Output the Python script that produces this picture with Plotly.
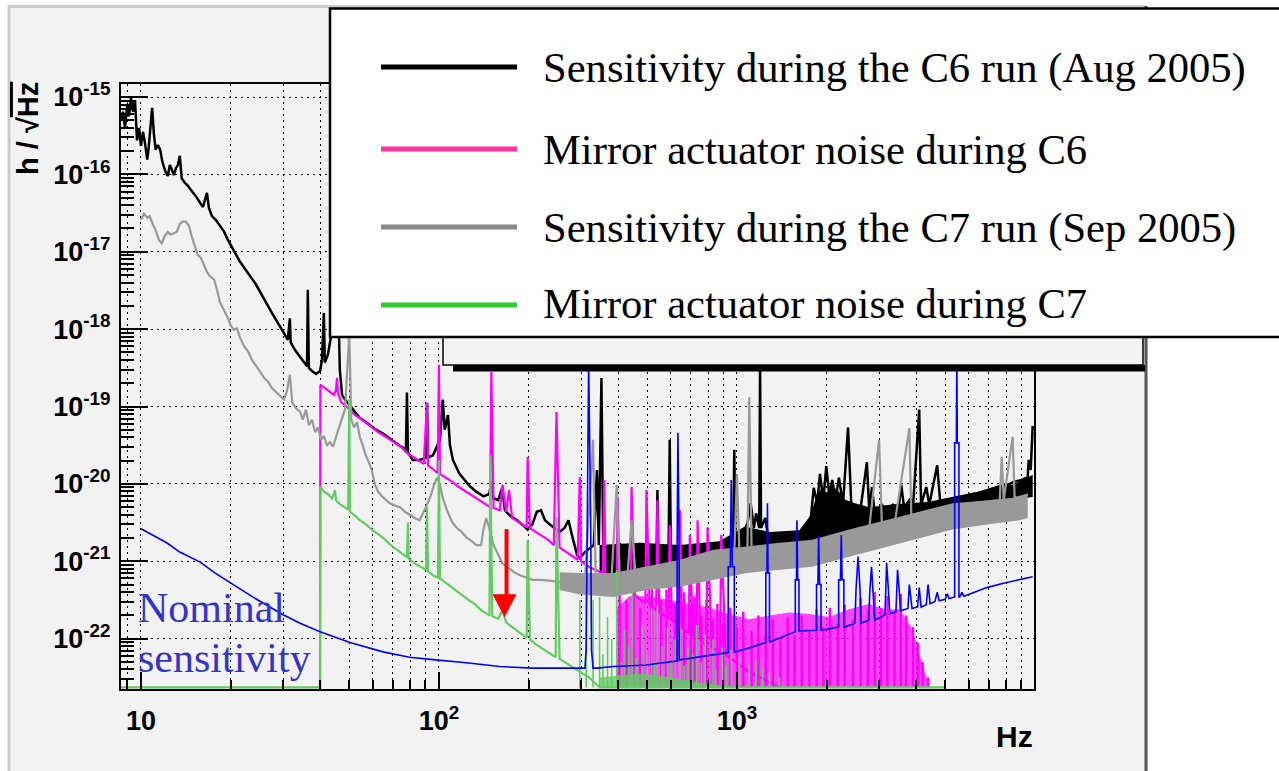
import plotly.graph_objects as go

# ---------------------------------------------------------------------------
# Strain sensitivity spectra, h / sqrt(Hz).  Frequencies in Hz, amplitudes as
# log10(h).  None marks bins that are zero (below the displayed range); they are
# drawn on the lower edge of the frame, as ROOT does.
# ---------------------------------------------------------------------------

# C6 run sensitivity (Aug 2005)
c6_freq_hz = [
    8.57, 8.70, 8.84, 9.00, 9.11, 9.26, 9.40, 9.55, 9.70, 9.85,
    10.0, 10.16, 10.3, 10.5, 10.6, 10.8, 10.9, 11.06, 11.2, 11.4,
    11.6, 11.8, 11.95, 12.1, 12.3, 12.5, 12.7, 12.9, 13.1, 13.3,
    13.5, 13.7, 14.05, 14.4, 14.7, 15.05, 15.4, 15.8, 16.15, 16.4,
    16.65, 16.9, 17.3, 17.85, 18.4, 19.0, 19.6, 20.2, 20.8, 21.5,
    22.2, 22.9, 23.6, 24.3, 25.1, 25.9, 26.7, 27.5, 28.4, 29.3,
    30.2, 31.1, 31.6, 31.8, 32.9, 34.2, 35.2, 36.1, 36.3, 36.6,
    37.5, 38.7, 39.9, 40.5, 41.1, 41.4, 42.4, 43.4, 44.4, 45.1,
    45.8, 46.5, 47.3, 48.4, 50.0, 51.5, 54.3, 57.3, 61.0, 64.9,
    69.4, 74.0, 77.5, 78.1, 78.7, 81.6, 86.1, 90.5, 91.2, 91.9,
    95.5, 98.6, 100.8, 103, 104.6, 107.2, 108.9, 111.4, 114.8, 117.2,
    122, 127, 133.5, 141, 147.5, 149.9, 152, 158, 163, 166.5,
    173, 182.8, 191, 198.5, 206, 213, 220, 227, 235, 245,
    254, 264, 272, 282, 291, 297, 309, 321, 331, 339,
    344, 351, 356, 363, 374, 395, 404, 420, 443, 471,
    497, 518, 538, 541, 545, 567, 590, 595, 600, 623,
    652, 695, 738, 786, 837, 886, 942, 972, 980, 988,
    1036, 1085, 1112, 1140, 1160, 1188, 1196, 1205, 1245, 1266,
    1340, 1415, 1500, 1580, 1680, 1770, 1810, 1860, 1900, 1950,
    1995, 2040, 2090, 2140, 2200, 2270, 2360, 2420, 2510, 2610,
    2730, 2780, 2840, 2900, 3067, 3180, 3338, 3490, 3560, 3640,
    3790, 3900, 4090, 4150, 4320, 4420, 4700, 4810, 5080, 5340,
    5640, 6000, 6400, 6780, 7170, 7620, 8100, 8550, 9030, 9460,
    9530, 9680, 9830,
]
c6_log_h = [
    -15.30, -15.19, -15.40, -15.09, -15.25, -15.01, -15.19, -15.04, -15.56, -15.40,
    -15.63, -15.45, -15.58, -15.81, -15.68, -15.30, -15.14, -15.49, -15.68, -15.62,
    -15.68, -15.84, -15.92, -15.97, -16.02, -15.88, -15.94, -16.01, -15.92, -15.88,
    -15.76, -16.05, -16.11, -16.15, -16.20, -16.25, -16.30, -16.37, -16.42, -16.33,
    -16.24, -16.43, -16.54, -16.59, -16.67, -16.74, -16.85, -16.95, -17.03, -17.13,
    -17.21, -17.29, -17.35, -17.42, -17.52, -17.60, -17.70, -17.79, -17.88, -17.96,
    -18.05, -18.14, -17.86, -18.17, -18.27, -18.36, -18.42, -18.48, -17.49, -18.50,
    -18.54, -18.58, -18.54, -18.40, -17.79, -18.43, -18.33, -18.07, -17.88, -18.01,
    -17.49, -18.53, -18.85, -18.91, -18.98, -19.04, -19.15, -19.21, -19.29, -19.35,
    -19.43, -19.51, -19.55, -18.82, -19.59, -19.69, -19.69, -19.66, -18.95, -19.66,
    -19.63, -19.50, -19.43, -18.91, -19.30, -19.11, -19.50, -19.69, -19.79, -19.87,
    -19.95, -20.03, -20.10, -20.16, -20.13, -19.97, -20.18, -20.21, -20.05, -20.34,
    -20.41, -20.47, -20.53, -20.59, -20.52, -20.36, -20.34, -20.47, -20.52, -20.57,
    -20.62, -20.57, -20.47, -20.72, -20.92, -20.96, -20.88, -20.83, -20.79, -19.82,
    -20.79, -18.63, -20.85, -20.87, -20.81, -20.90, -20.77, -20.86, -20.81, -20.83,
    -20.77, -20.86, -20.81, -20.08, -20.86, -20.83, -20.81, -19.43, -20.83, -20.87,
    -20.81, -20.86, -20.83, -20.81, -20.78, -20.77, -20.74, -20.70, -19.56, -20.70,
    -20.68, -20.51, -20.25, -20.57, -20.38, -20.57, -18.50, -20.57, -20.44, -20.63,
    -20.70, -20.68, -20.66, -20.64, -20.61, -20.44, -20.05, -20.25, -19.87, -20.21,
    -19.77, -20.14, -19.95, -20.21, -19.92, -20.27, -19.27, -20.27, -20.40, -20.27,
    -19.72, -20.34, -20.04, -20.38, -20.27, -20.34, -20.27, -20.31, -20.01, -20.31,
    -20.21, -20.29, -19.04, -20.27, -20.04, -20.27, -19.76, -20.23, -20.21, -20.20,
    -20.17, -20.14, -20.12, -20.09, -20.07, -20.03, -20.01, -19.97, -19.95, -19.91,
    -19.69, -19.82, -19.25,
]
# spread of the fast fluctuations of the C6 curve above a few hundred Hz
c6_band_freq_hz = [346, 471, 644, 873, 1064, 1286, 1620, 1770, 1850, 1930,
                   2000, 2080, 2200, 2300, 2490, 2780, 3260, 3790, 4420, 5560,
                   7000, 8550, 9830]
c6_band_low_log_h = [-21.18, -21.10, -21.01, -20.88, -20.84, -20.80, -20.76, -20.74, -20.72, -20.70,
                     -20.68, -20.67, -20.65, -20.63, -20.60, -20.55, -20.50, -20.42, -20.33, -20.28,
                     -20.24, -20.20, -20.17]
c6_band_high_log_h = [-20.79, -20.76, -20.79, -20.74, -20.55, -20.62, -20.60, -20.40, -20.15, -20.05,
                      -20.12, -20.02, -20.10, -20.20, -20.25, -20.30, -20.27, -20.25, -20.23, -20.15,
                      -20.08, -20.00, -19.88]

# C7 run sensitivity (Sep 2005)
c7_freq_hz = [
    10.0, 10.23, 10.5, 10.7, 10.97, 11.2, 11.5, 11.75, 12.0, 12.3,
    12.6, 12.9, 13.2, 13.5, 13.8, 14.15, 14.5, 14.8, 15.2, 15.5,
    15.9, 16.3, 16.65, 17.0, 17.6, 18.0, 18.4, 18.85, 19.3, 19.7,
    20.0, 20.5, 21.0, 21.5, 22.2, 22.9, 23.6, 24.3, 25.1, 25.9,
    26.7, 27.5, 28.4, 29.3, 30.2, 30.9, 31.6, 32.2, 33.1, 34.2,
    34.9, 35.8, 36.6, 37.5, 38.4, 39.3, 40.2, 41.1, 42.1, 43.1,
    44.1, 45.1, 46.1, 47.3, 48.4, 49.1, 50.0, 50.8, 51.9, 53.1,
    54.3, 55.5, 56.8, 58.2, 59.5, 61.0, 62.5, 64.4, 66.3, 68.4,
    71.2, 74.0, 76.9, 79.7, 82.9, 86.1, 88.9, 91.2, 94.1, 96.3,
    98.6, 100.8, 103, 106.4, 110.6, 114.8, 119.2, 123.6, 128.8, 133.5,
    138.5, 141, 144, 147.5, 152.5, 158, 163.5, 170.5, 178.5, 187.1,
    195.6, 206, 217.6, 235, 254, 275, 297, 309, 329, 336,
    359, 380, 395, 404, 429, 443, 457, 490, 528, 575,
    620, 695, 782, 873, 980, 1000, 1020, 1085, 1100, 1120,
    1245, 1390, 1565, 1750, 1974, 2200, 2490, 2780, 3000, 3067,
    3390, 3790, 3850, 4276, 4770, 5340, 6000, 6780, 7620, 7740,
    7860, 8420, 8550, 9460,
]
c7_log_h = [
    -16.59, -16.51, -16.56, -16.54, -16.65, -16.72, -16.85, -16.89, -16.80, -16.74,
    -16.78, -16.76, -16.74, -16.64, -16.61, -16.61, -16.67, -16.80, -16.95, -17.04,
    -17.08, -17.18, -17.26, -17.31, -17.36, -17.49, -17.65, -17.73, -17.80, -17.88,
    -17.95, -18.01, -17.99, -18.11, -18.22, -18.29, -18.40, -18.48, -18.55, -18.63,
    -18.68, -18.76, -18.81, -18.86, -18.91, -18.80, -18.59, -18.95, -19.02, -19.07,
    -19.17, -19.04, -19.24, -19.17, -19.33, -19.27, -19.43, -19.38, -19.50, -19.46,
    -19.52, -19.40, -19.27, -19.15, -19.04, -18.60, -18.07, -19.17, -19.27, -19.20,
    -19.40, -19.50, -19.63, -19.72, -19.82, -20.01, -20.10, -20.16, -20.21, -20.25,
    -20.28, -20.30, -20.36, -20.40, -20.44, -20.47, -20.36, -20.27, -20.14, -20.01,
    -19.92, -20.01, -20.18, -20.34, -20.49, -20.57, -20.62, -20.69, -20.74, -20.79,
    -20.79, -20.59, -20.44, -20.57, -20.79, -20.92, -21.03, -21.08, -21.14, -21.18,
    -21.21, -21.24, -21.24, -21.25, -21.27, -21.27, -21.29, -21.24, -19.43, -21.27,
    -21.21, -21.18, -20.01, -21.21, -21.19, -20.47, -21.19, -21.16, -21.14, -21.11,
    -21.09, -21.05, -20.98, -20.93, -20.90, -19.88, -20.90, -20.85, -18.88, -20.85,
    -20.83, -20.79, -20.79, -20.75, -20.72, -20.67, -20.62, -20.57, -19.43, -20.54,
    -20.49, -19.28, -20.44, -20.40, -20.34, -20.28, -20.26, -20.23, -20.21, -19.65,
    -20.21, -19.39, -20.18, -20.14,
]
c7_band_freq_hz = [254, 297, 385, 497, 644, 831, 1077, 1390, 1790, 2380,
                   3180, 4090, 5290, 7000, 8890, 9460]
c7_band_low_log_h = [-21.37, -21.43, -21.46, -21.37, -21.33, -21.24, -21.15, -21.11, -21.07, -20.94,
                     -20.81, -20.70, -20.59, -20.52, -20.47, -20.44]
c7_band_high_log_h = [-21.14, -21.15, -21.15, -21.07, -20.98, -20.85, -20.81, -20.76, -20.72, -20.59,
                      -20.47, -20.36, -20.25, -20.21, -20.17, -20.12]

# Mirror actuator noise during C6
c6_act_freq_hz = [
    39.9, 40.0, 41.4, 43.1, 44.4, 45.1, 45.5, 45.8, 46.9, 48.4,
    50.3, 52.3, 54.3, 56.8, 59.5, 62.5, 65.6, 68.4, 71.7, 75.1,
    77.5, 81.0, 84.9, 88.9, 91.2, 91.9, 96.3, 99.0, 100, 100.8,
    105.5, 110.6, 115.7, 121, 127, 132.5, 138.5, 145, 148.5, 149.9,
    152.5, 160, 163.5, 168, 172, 176, 184, 193, 197, 198.5,
    202, 211, 221, 232, 243, 248, 254, 266, 279, 292,
    297, 300, 321, 336, 355, 359, 362, 380, 395, 398,
    404, 429, 440, 443, 454, 476, 493, 497, 509, 536,
    541, 549, 590, 595, 605, 640, 644, 655, 690, 695,
    711, 733, 738, 754, 790, 797, 823, 878, 886, 918,
    1008, 1100, 1240, 1390,
]
c6_act_log_h = [
    None, -18.72, -18.76, -18.81, -18.85, -18.79, -18.63, -18.82, -18.94, -18.98,
    -19.04, -19.11, -19.15, -19.21, -19.26, -19.33, -19.38, -19.43, -19.48, -19.53,
    -19.59, -19.64, -19.69, -19.74, -18.95, -19.76, -19.82, -19.86, -18.46, -19.87,
    -19.92, -19.97, -20.03, -20.08, -20.13, -20.18, -20.23, -20.28, -20.30, -18.55,
    -20.31, -20.34, -20.01, -20.36, -20.08, -20.44, -20.49, -20.54, -20.56, -19.65,
    -20.57, -20.62, -20.67, -20.72, -20.79, -19.07, -20.82, -20.87, -20.93, -20.98,
    -19.91, -21.00, -21.08, -21.11, -21.16, -19.95, -21.18, -21.24, -21.29, -20.17,
    -21.30, -21.37, -21.40, -20.04, -21.43, -21.50, -21.54, -20.08, -21.56, -21.63,
    -20.21, -21.65, -21.74, -20.53, -21.76, -21.84, -20.34, -21.86, -21.93, -20.66,
    -21.95, -21.99, -20.47, -22.01, -22.09, -20.56, -22.11, -22.19, -20.66, -22.21,
    -22.33, -22.43, -22.53, None,
]
# dense comb of C6 actuator lines above ~400 Hz: background cover ...
c6_act_comb_freq_hz = [395, 436, 509, 595, 695, 809, 942, 1100, 1286, 1500,
                       1750, 2040, 2380, 2780, 3130, 3510, 3850, 4090, 4290, 4450]
c6_act_comb_top_log_h = [-21.60, -21.45, -21.45, -21.50, -21.55, -21.60, -21.68, -21.75, -21.70, -21.66,
                         -21.68, -21.72, -21.62, -21.55, -21.62, -21.62, -21.85, -22.20, -22.45, None]
# ... and its individual teeth
c6_act_line_freq_hz = [
    404, 426, 450, 474, 518, 557, 580, 620, 665, 700,
    720, 760, 790, 830, 860, 900, 950, 1000, 1050, 1120,
    1180, 1250, 1320, 1400, 1480, 1560, 1650, 1750, 1850, 1950,
    2050, 2180, 2300, 2450, 2600, 2750, 2900, 3050, 3200, 3380,
    3550, 3700, 3900, 4050, 4200, 4380,
]
c6_act_line_top_log_h = [
    -21.30, -21.50, -21.37, -21.60, -21.27, -21.50, -21.37, -21.55, -21.40, -21.60,
    -21.45, -21.70, -21.50, -21.75, -21.55, -21.80, -21.60, -21.85, -21.65, -21.90,
    -21.70, -21.95, -21.75, -21.98, -21.72, -21.95, -21.70, -21.90, -21.62, -21.85,
    -21.60, -21.80, -21.56, -21.75, -21.47, -21.62, -21.40, -21.60, -21.45, -21.65,
    -21.42, -21.70, -21.85, -22.05, -22.30, -22.50,
]

# Mirror actuator noise during C7
c7_act_freq_hz = [
    8.57, 39.9, 40.0, 41.1, 42.4, 43.8, 44.8, 45.1, 46.5, 48.4,
    49.6, 50.0, 50.3, 52.3, 54.3, 56.8, 59.5, 62.5, 65.6, 68.4,
    71.7, 75.1, 78.1, 78.7, 79.2, 82.3, 86.1, 90.5, 91.2, 91.9,
    96.3, 99.3, 100, 100.8, 105.5, 110.6, 115.7, 121, 127, 132.5,
    138.5, 145, 147.8, 148.7, 151, 158, 163.5, 168, 176, 184,
    193, 197, 198.5, 202, 211, 221, 232, 243, 246.5, 248,
    254, 266, 279, 292, 306, 321, 336, 346, 4950,
]
c7_act_log_h = [
    None, None, -20.04, -20.10, -20.13, -20.19, -20.08, -20.21, -20.26, -20.31,
    -20.33, -18.91, -20.36, -20.41, -20.47, -20.52, -20.59, -20.65, -20.71, -20.78,
    -20.84, -20.90, -20.95, -20.50, -20.97, -21.02, -21.06, -21.11, -20.30, -21.13,
    -21.19, -21.21, -19.69, -21.22, -21.28, -21.34, -21.40, -21.46, -21.51, -21.56,
    -21.63, -21.68, -21.70, -19.63, -21.71, -21.74, -21.63, -21.79, -21.85, -21.90,
    -21.97, -21.99, -20.72, -22.01, -22.07, -22.12, -22.17, -22.22, -22.24, -20.43,
    -22.26, -22.31, -22.36, -22.41, -22.46, -22.51, -22.58, None, None,
]
# isolated actuator lines (C7) rising from below the displayed range
c7_act_line_freq_hz = [
    297, 312, 329, 346, 355, 368, 380, 395, 410, 420,
    433, 446, 460, 480, 500, 518, 530, 541, 560, 585,
    600, 620, 644, 665, 686, 710, 733, 760, 782, 831,
    850, 893, 920, 957, 1020, 1100, 1160, 1220, 1286, 1390,
]
c7_act_line_top_log_h = [
    -21.50, -21.37, -21.50, -21.46, -22.20, -21.72, -22.00, -21.11, -22.30, -21.89,
    -22.10, -21.40, -22.25, -21.82, -22.20, -21.61, -22.30, -21.56, -22.10, -21.86,
    -22.30, -22.00, -21.89, -22.35, -22.11, -22.20, -21.82, -22.30, -21.95, -22.01,
    -22.40, -22.11, -22.35, -22.14, -22.23, -22.33, -22.27, -22.38, -22.44, -22.49,
]
# low dense grass of C7 lines just above the lower edge
c7_act_grass_freq_hz = [346, 404, 471, 549, 644, 749, 873, 1020]
c7_act_grass_top_log_h = [-22.50, -22.47, -22.45, -22.48, -22.52, -22.57, -22.60, None]

# Nominal (design) sensitivity
nominal_freq_hz = [
    10.0, 11.1, 12.2, 13.5, 15.8, 17.7, 19.9, 23.7, 30.0, 34.2,
    39.9, 50.3, 64.9, 79.7, 95.5, 123.6, 160, 206, 268, 305,
    309, 312, 314, 318, 323, 325, 329, 339, 385, 497,
    565, 626, 630, 630, 634, 640, 640, 649, 782, 925,
    935, 935, 950, 957, 965, 980, 980, 988, 1100, 1246,
    1250, 1250, 1262, 1266, 1272, 1286, 1286, 1296, 1565, 1570,
    1570, 1585, 1590, 1600, 1615, 1615, 1620, 1841, 1850, 1850,
    1870, 1880, 1895, 1915, 1915, 1920, 2183, 2195, 2195, 2225,
    2240, 2255, 2285, 2285, 2300, 2489, 2510, 2550, 2590, 2610,
    2773, 2790, 2830, 2870, 2900, 3140, 3160, 3180, 3220, 3260,
    3418, 3440, 3460, 3510, 3540, 3750, 3790, 3870, 4040, 4090,
    4150, 4320, 4380, 4450, 4620, 4700, 4770, 5000, 5080, 5150,
    5340, 5380, 5380, 5450, 5470, 5490, 5560, 5560, 5600, 5690,
    5780, 6890, 7900, 8890, 9830,
]
nominal_log_h = [
    -20.58, -20.68, -20.76, -20.88, -21.01, -21.15, -21.27, -21.46, -21.69, -21.80,
    -21.91, -22.05, -22.17, -22.24, -22.27, -22.31, -22.36, -22.38, -22.38, -22.38,
    -22.38, -22.14, -20.47, -18.45, -20.47, -22.14, -22.38, -22.38, -22.36, -22.34,
    -22.31, -22.29, -22.29, -20.81, -19.34, -20.81, -22.28, -22.27, -22.22, -22.18,
    -22.18, -21.07, -21.07, -19.95, -21.07, -21.07, -22.17, -22.17, -22.12, -22.05,
    -22.05, -21.15, -21.15, -20.25, -21.15, -21.15, -22.04, -22.04, -21.91, -21.91,
    -21.24, -21.24, -20.47, -21.24, -21.24, -21.90, -21.90, -21.89, -21.89, -21.30,
    -21.30, -20.66, -21.30, -21.30, -21.89, -21.89, -21.85, -21.85, -21.24, -21.24,
    -20.66, -21.24, -21.24, -21.85, -21.85, -21.80, -21.37, -20.94, -21.37, -21.80,
    -21.76, -21.41, -21.07, -21.41, -21.76, -21.69, -21.34, -21.02, -21.34, -21.68,
    -21.65, -21.41, -21.11, -21.41, -21.64, -21.61, -21.30, -21.61, -21.59, -21.34,
    -21.59, -21.56, -21.30, -21.55, -21.52, -21.40, -21.51, -21.49, -21.42, -21.48,
    -21.46, -21.46, -19.47, -19.47, -18.35, -19.47, -19.47, -21.46, -21.46, -21.40,
    -21.45, -21.34, -21.28, -21.24, -21.20,
]

# axis ticks
x_tick_hz = [10, 100, 1000]
x_tick_text = ["10", "10<sup>2</sup>", "10<sup>3</sup>"]
y_tick_exp = [-22, -21, -20, -19, -18, -17, -16, -15]

legend_labels = [
    "Sensitivity during the C6 run (Aug 2005)",
    "Mirror actuator noise during C6",
    "Sensitivity during the C7 run (Sep 2005)",
    "Mirror actuator noise during C7",
]
legend_colors = ["#000000", "#ff3399", "#888888", "#33cc33"]

# red arrow: C6 -> C7 actuator noise reduction
ARROW_FREQ_HZ = 166
ARROW_TIP_H = 1.9e-22

# ---------------------------------------------------------------------------
X_RANGE = [0.933, 3.997]          # log10(Hz)
Y_RANGE = [-22.65, -14.832]       # log10(h)
FLOOR_LOG = -22.63                # where empty bins are drawn

C_BLACK, C_MAG, C_GRAY, C_GREEN, C_BLUE = "#000000", "#ff00ff", "#999999", "#62cc62", "#0000ff"
BG = "#f2f2f2"


def h(logs):
    return [10 ** (FLOOR_LOG if v is None else v) for v in logs]


def band_xy(freq, low, high):
    return list(freq) + list(freq)[::-1], h(high) + h(low)[::-1]


def comb_xy(freq, tops):
    floor = 10 ** FLOOR_LOG
    return list(freq) + [freq[-1], freq[0]], h(tops) + [floor, floor]


def lines_xy(freq, tops):
    xs, ys = [], []
    for f, t in zip(freq, h(tops)):
        xs += [f, f, None]
        ys += [10 ** FLOOR_LOG, t, None]
    return xs, ys


def line(x, y, color, width):
    return go.Scatter(x=x, y=y, mode="lines", line=dict(color=color, width=width),
                      hoverinfo="skip", showlegend=False)


def area(x, y, color):
    return go.Scatter(x=x, y=y, mode="lines", fill="toself", fillcolor=color,
                      line=dict(width=0, color=color), hoverinfo="skip", showlegend=False)


fig = go.Figure()
fig.add_trace(area(*band_xy(c6_band_freq_hz, c6_band_low_log_h, c6_band_high_log_h), C_BLACK))
fig.add_trace(line(c6_freq_hz, h(c6_log_h), C_BLACK, 2.5))
fig.add_trace(area(*comb_xy(c6_act_comb_freq_hz, c6_act_comb_top_log_h), "rgba(255,0,255,0.72)"))
fig.add_trace(line(*lines_xy(c6_act_line_freq_hz, c6_act_line_top_log_h), C_MAG, 2.4))
fig.add_trace(line(c6_act_freq_hz, h(c6_act_log_h), C_MAG, 2.2))
fig.add_trace(area(*band_xy(c7_band_freq_hz, c7_band_low_log_h, c7_band_high_log_h), C_GRAY))
fig.add_trace(line(c7_freq_hz, h(c7_log_h), C_GRAY, 2.2))
fig.add_trace(area(*comb_xy(c7_act_grass_freq_hz, c7_act_grass_top_log_h), "rgba(98,204,98,0.8)"))
fig.add_trace(line(*lines_xy(c7_act_line_freq_hz, c7_act_line_top_log_h), C_GREEN, 1.6))
fig.add_trace(line(c7_act_freq_hz, h(c7_act_log_h), C_GREEN, 2.2))
fig.add_trace(line(nominal_freq_hz, h(nominal_log_h), C_BLUE, 1.6))

# ---------------------------------------------------------------------------
# page geometry (pixels) -> paper coordinates
PL, PT, PW, PH = 121, 84, 913, 605


def px(x):
    return (x - PL) / PW


def py(y):
    return (PT + PH - y) / PH


shapes = [
    # ROOT canvas
    dict(type="rect", xref="paper", yref="paper", x0=px(8), x1=px(1146), y0=py(800), y1=py(7),
         fillcolor=BG, line=dict(width=0), layer="below"),
    dict(type="line", xref="paper", yref="paper", x0=px(9), x1=px(9), y0=py(800), y1=py(6),
         line=dict(color="#cccccc", width=3), layer="below"),
    dict(type="line", xref="paper", yref="paper", x0=px(8), x1=px(1146), y0=py(6.5), y1=py(6.5),
         line=dict(color="#cccccc", width=3), layer="below"),
    dict(type="line", xref="paper", yref="paper", x0=px(1146), x1=px(1146), y0=py(800), y1=py(6),
         line=dict(color="#555555", width=3), layer="below"),
    # original ROOT legend box with its shadow, mostly covered
    dict(type="rect", xref="paper", yref="paper", x0=px(443), x1=px(1143), y0=py(365), y1=py(300),
         fillcolor=BG, line=dict(color="black", width=1.5), layer="above"),
    dict(type="rect", xref="paper", yref="paper", x0=px(453), x1=px(1145), y0=py(371.5), y1=py(365),
         fillcolor="black", line=dict(width=0), layer="above"),
    # overlay legend box
    dict(type="rect", xref="paper", yref="paper", x0=px(330), x1=px(1300), y0=py(337), y1=py(8.5),
         fillcolor="white", line=dict(color="black", width=2.5), layer="above"),
    # arrow shaft and head, anchored at the arrow tip
    dict(type="rect", xref="x", yref="y", xsizemode="pixel", ysizemode="pixel",
         xanchor=ARROW_FREQ_HZ, yanchor=ARROW_TIP_H, x0=-4, x1=4, y0=22, y1=88,
         fillcolor="#ff0000", line=dict(width=0), layer="above"),
    dict(type="path", xref="x", yref="y", xsizemode="pixel", ysizemode="pixel",
         xanchor=ARROW_FREQ_HZ, yanchor=ARROW_TIP_H, path="M -12,23 L 12,23 L 0,0 Z",
         fillcolor="#ff0000", line=dict(width=0), layer="above"),
]

legend_row_y = [67, 149, 227, 305]
for yy, col in zip(legend_row_y, legend_colors):
    shapes.append(dict(type="line", xref="paper", yref="paper", x0=px(381), x1=px(517),
                       y0=py(yy), y1=py(yy), line=dict(color=col, width=5), layer="above"))

SERIF = "Liberation Serif, Times New Roman, serif"
SANS = "Liberation Sans, Arial, Helvetica, sans-serif"

annotations = []
legend_text_y = [68, 149, 228, 303]
for yy, label in zip(legend_text_y, legend_labels):
    annotations.append(dict(xref="paper", yref="paper", x=px(541), y=py(yy), text=label,
                            showarrow=False, xanchor="left", yanchor="middle",
                            font=dict(family=SERIF, size=42.6, color="black")))
annotations += [
    dict(xref="paper", yref="paper", x=px(136), y=py(608), text="Nominal", showarrow=False,
         xanchor="left", yanchor="middle", font=dict(family=SERIF, size=42, color="#3434c8")),
    dict(xref="paper", yref="paper", x=px(136), y=py(658), text="sensitivity", showarrow=False,
         xanchor="left", yanchor="middle", font=dict(family=SERIF, size=42, color="#3434c8")),
    dict(xref="paper", yref="paper", x=px(1035), y=py(736), text="Hz", showarrow=False,
         xanchor="right", yanchor="middle", font=dict(family=SANS, size=30, color="black", weight="bold")),
    dict(xref="paper", yref="paper", x=px(28), y=py(129), textangle=-90,
         text="h / \u221a<span style='text-decoration:overline'>Hz</span>", showarrow=False,
         xanchor="center", yanchor="middle", font=dict(family=SANS, size=29, color="black", weight="bold")),
]

grid_style = dict(showgrid=True, gridcolor="black", griddash="2px,4px", gridwidth=1.3)
tick_font = dict(family=SANS, size=27, color="black", weight="bold")

fig.update_layout(
    width=1279, height=771, autosize=False,
    margin=dict(l=PL, r=1279 - PL - PW, t=PT, b=771 - PT - PH, pad=0),
    paper_bgcolor="white", plot_bgcolor=BG, showlegend=False,
    xaxis=dict(type="log", range=X_RANGE, showline=True, linecolor="black", linewidth=2, mirror=True,
               zeroline=False, ticks="inside", ticklen=17, tickwidth=1.5, tickcolor="black",
               tickmode="array", tickvals=x_tick_hz, ticktext=x_tick_text, tickfont=tick_font,
               ticklabelstandoff=7,
               minor=dict(ticks="inside", ticklen=9, tickwidth=1.5, tickcolor="black", dtick="D1",
                          **grid_style),
               **grid_style),
    yaxis=dict(type="log", range=Y_RANGE, showline=True, linecolor="black", linewidth=2, mirror=True,
               zeroline=False, ticks="inside", ticklen=27, tickwidth=1.5, tickcolor="black",
               tickmode="array", tickvals=[10.0 ** e for e in y_tick_exp],
               ticktext=["10<sup>%d</sup>" % e for e in y_tick_exp], tickfont=tick_font,
               ticklabelstandoff=3,
               minor=dict(ticks="inside", ticklen=13, tickwidth=1.5, tickcolor="black", dtick="D1",
                          showgrid=False),
               **grid_style),
    shapes=shapes,
    annotations=annotations,
)

fig.write_html("out.html")
